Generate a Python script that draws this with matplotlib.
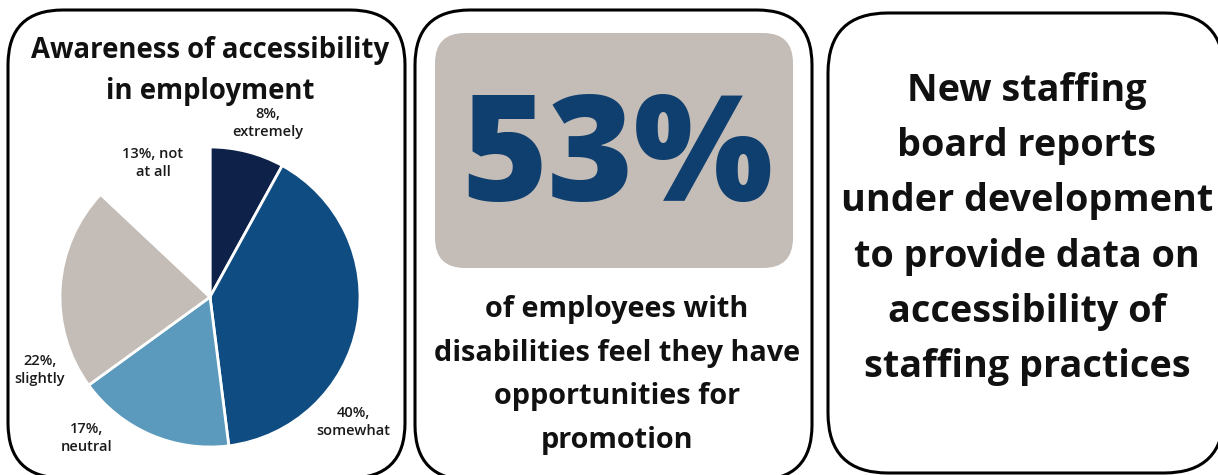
import matplotlib
matplotlib.use("Agg")
import matplotlib.pyplot as plt
from matplotlib.patches import FancyBboxPatch

plt.rcParams['font.family'] = ['Open Sans', 'DejaVu Sans']

# awareness survey, clockwise from 12 o'clock
levels = ["extremely", "somewhat", "neutral", "slightly", "not at all"]
shares = [8, 40, 17, 22, 13]
slice_colors = ["#0e2149", "#0f4c81", "#5b9abd", "#c4bcb6", "#ffffff"]

headline_pct = 53
headline_text = "of employees with\ndisabilities feel they have\nopportunities for\npromotion"
note_text = ("New staffing\nboard reports\nunder development\nto provide data on\n"
             "accessibility of\nstaffing practices")

W, H = 1218, 475
fig = plt.figure(figsize=(W / 100, H / 100), dpi=100)
ax = fig.add_axes([0, 0, 1, 1])


def card(x0, y0, x1, y1, r, **kw):
    # y given top-down in pixels
    p = FancyBboxPatch((x0 + r, H - y1 + r), (x1 - x0) - 2 * r, (y1 - y0) - 2 * r,
                       boxstyle=f"round,pad={r}", **kw)
    ax.add_patch(p)
    return p


card(8, 10, 405, 478, 55, fc="white", ec="black", lw=2.2, zorder=1)
card(415, 10, 812, 480, 55, fc="white", ec="black", lw=2.2, zorder=1)
card(828, 13, 1224, 473, 60, fc="white", ec="black", lw=2.2, zorder=1)

# --- left card: pie
wedges, _ = ax.pie(shares, colors=slice_colors, startangle=90, counterclock=False,
                   center=(210, H - 297), radius=150,
                   wedgeprops=dict(edgecolor="white", linewidth=2))
for w in wedges:
    w.set_zorder(2)

ax.text(210, H - 71, "Awareness of accessibility\nin employment", ha="center", va="center",
        fontsize=19.8, fontweight="bold", color="#111111", linespacing=1.55, zorder=3)

label_pos = [(268, 123), (353, 422), (87, 438), (40, 370), (153, 163)]
for lvl, v, (lx, ly) in zip(levels, shares, label_pos):
    if lvl == "not at all":
        txt = f"{v}%, not\nat all"
    else:
        txt = f"{v}%,\n{lvl}"
    ax.text(lx, H - ly, txt, ha="center", va="center", fontsize=10.5, fontweight="semibold",
            color="#1a1a1a", linespacing=1.4, zorder=3)

# --- middle card: headline figure
card(435, 33, 793, 268, 30, fc="#c4bcb7", ec="none", zorder=2)
ax.text(617, H - 163, f"{headline_pct}%", ha="center", va="center", fontsize=106,
        fontweight=800, color="#0f3f6e", zorder=3)
ax.text(617, H - 375, headline_text, ha="center", va="center", fontsize=20.8,
        fontweight="bold", color="#111111", linespacing=1.68, zorder=3)

# --- right card: note
ax.text(1027, H - 229, note_text, ha="center", va="center", fontsize=27.2,
        fontweight="bold", color="#111111", linespacing=1.6, zorder=3)

ax.set_xlim(0, W)
ax.set_ylim(0, H)
ax.set_aspect("auto")
ax.axis("off")

fig.savefig("out.png", dpi=100)
